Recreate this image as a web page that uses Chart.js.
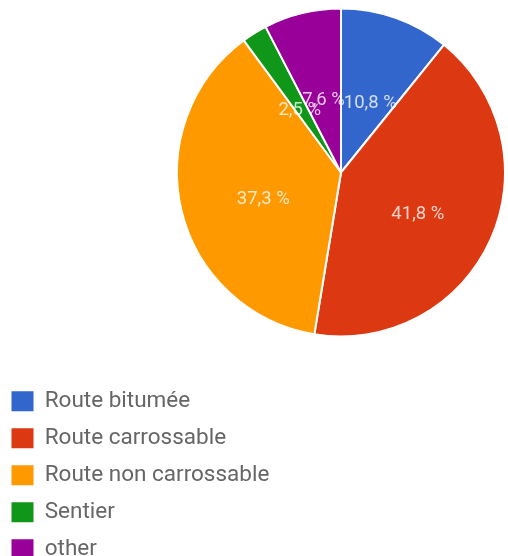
<!DOCTYPE html>
<html>
<head>
<meta charset="utf-8">
<script src="https://cdn.jsdelivr.net/npm/chart.js@4/dist/chart.umd.min.js"></script>
<style>
  html, body { margin: 0; padding: 0; background: #fff; overflow: hidden; }
  #wrap { position: relative; width: 508px; height: 575px; }
</style>
</head>
<body>
<div id="wrap"><canvas id="c"></canvas></div>
<script>
const categories = ["Route bitumée", "Route carrossable", "Route non carrossable", "Sentier", "other"];
const values = [10.8, 41.8, 37.3, 2.5, 7.6];
const valueLabels = ["10,8 %", "41,8 %", "37,3 %", "2,5 %", "7,6 %"];
const colors = ["#3366cc", "#dc3912", "#ff9900", "#109618", "#990099"];

const pieArea = {
  id: 'pieArea',
  afterLayout(chart) {
    const a = chart.chartArea;
    a.left = 176; a.right = 506; a.top = 7.5; a.bottom = 337.5;
    a.width = a.right - a.left; a.height = a.bottom - a.top;
  }
};

const sliceLabels = {
  id: 'sliceLabels',
  afterDatasetsDraw(chart) {
    const ctx = chart.ctx;
    const meta = chart.getDatasetMeta(0);
    ctx.save();
    ctx.font = '18.5px Roboto';
    ctx.fillStyle = 'rgba(255,255,255,0.78)';
    ctx.textAlign = 'center';
    ctx.textBaseline = 'middle';
    meta.data.forEach((arc, i) => {
      const p = arc.getProps(['x', 'y', 'startAngle', 'endAngle', 'outerRadius'], true);
      const mid = (p.startAngle + p.endAngle) / 2;
      const r = p.outerRadius * 0.5;
      ctx.fillText(valueLabels[i], p.x + Math.cos(mid) * r + 2, p.y + Math.sin(mid) * r + 8);
    });
    ctx.restore();
  }
};

new Chart(document.getElementById('c'), {
  type: 'pie',
  data: {
    labels: categories,
    datasets: [{
      data: values,
      backgroundColor: colors,
      borderColor: '#ffffff',
      borderWidth: 2
    }]
  },
  options: {
    responsive: true,
    maintainAspectRatio: false,
    animation: false,
    layout: { padding: { left: -3 } },
    plugins: {
      tooltip: { enabled: false },
      legend: {
        position: 'left',
        align: 'end',
        maxWidth: 420,
        labels: {
          boxWidth: 22,
          boxHeight: 20,
          padding: 14.5,
          color: '#666666',
          font: { family: 'Roboto', size: 22.5 },
          generateLabels(chart) {
            const items = Chart.controllers.pie.overrides.plugins.legend.labels.generateLabels(chart);
            items.forEach(it => { it.lineWidth = 0; });
            return items;
          }
        }
      }
    }
  },
  plugins: [pieArea, sliceLabels]
});
</script>
</body>
</html>
